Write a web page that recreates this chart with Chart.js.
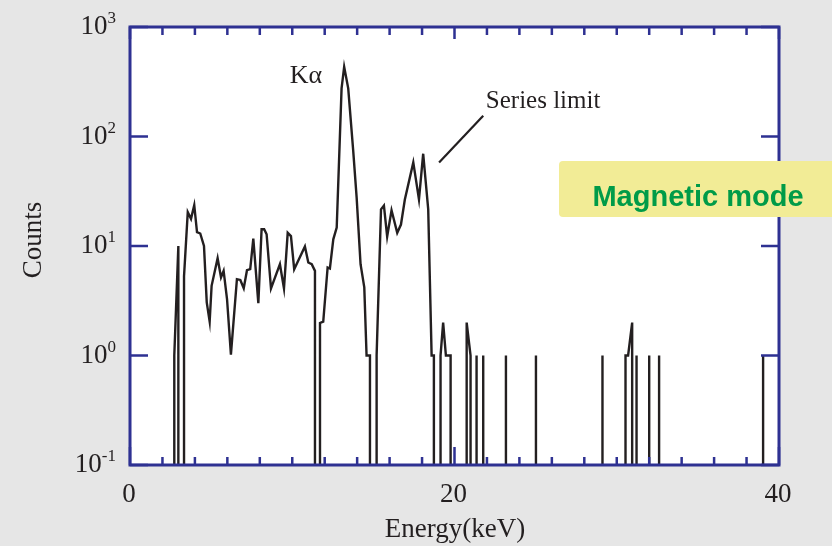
<!DOCTYPE html>
<html>
<head>
<meta charset="utf-8">
<script src="https://cdn.jsdelivr.net/npm/chart.js@4.4.1/dist/chart.umd.min.js"></script>
<style>
  html, body { margin: 0; padding: 0; background: #e6e6e6; }
  canvas { display: block; }
</style>
</head>
<body>
<canvas id="myChart" width="832" height="546"></canvas>
<script>
// Spectrum: energy in keV, counts (0 = empty bin, drawn as a drop to the floor)
const energy = [
  2.6, 2.73, 2.98, 3.1, 3.33, 3.56, 3.76, 3.96, 4.13, 4.33, 4.56, 4.73, 4.91, 5.03, 5.40, 5.61,
  5.77, 5.98, 6.22, 6.59, 6.80, 7.01, 7.21, 7.41, 7.60, 7.91, 8.11, 8.27, 8.42, 8.69, 9.24, 9.49,
  9.72, 9.92, 10.12, 10.78, 10.99, 11.20, 11.40, 11.55, 11.71, 11.91, 12.18, 12.32, 12.53, 12.74,
  13.04, 13.20, 13.45, 13.76, 13.97, 14.21, 14.44, 14.58, 14.79, 15.0, 15.20, 15.47, 15.65, 15.85,
  16.12, 16.47, 16.70, 16.94, 17.46, 17.81, 18.07, 18.38, 18.59, 18.73, 18.9, 19.14, 19.30, 19.47,
  19.76, 20.2, 20.75, 20.99, 21.2, 21.36, 21.5, 21.77, 22.5, 23.17, 24, 25.02, 27, 29.12, 30,
  30.54, 30.70, 30.95, 31.1, 31.22, 31.6, 32.0, 32.3, 32.61, 35, 39.02, 39.5
];
const counts = [
  0, 1, 10, 0, 5.3, 20.4, 17.7, 23.6, 13.4, 13.0, 10, 3.06, 2.04, 4.33, 7.73, 5.16,
  5.93, 3.28, 1.02, 4.98, 4.9, 4.12, 6.01, 6.14, 11.7, 3.01, 14.2, 14.2, 12.8, 4.1, 6.82, 4.1,
  13.2, 12.3, 6.14, 9.88, 7.07, 6.82, 5.93, 0, 1.98, 2.04, 6.36, 6.23, 11.5, 14.7,
  275, 433, 275, 73, 27.5, 6.82, 4.19, 1, 1, 0, 1, 21.6, 23.4, 12.2,
  21.2, 13.2, 15.7, 26.6, 58, 26.6, 69.6, 21.6, 1, 1, 0, 1, 2, 1,
  1, 0, 2, 1, 0, 1, 0, 1, 0, 1, 0, 1, 0, 1, 0,
  1, 1, 2, 0, 1, 0, 1, 0, 1, 0, 1, 0
];

// Axis ticks
const xTicks = [0, 2, 4, 6, 8, 10, 12, 14, 16, 18, 20, 22, 24, 26, 28, 30, 32, 34, 36, 38, 40];
const xTickLabels = [0, 20, 40];
const yTickExps = [-1, 0, 1, 2, 3];

const FLOOR = 0.01; // below the axis, gets clipped

// zero bins fall straight down (log of 0), like the original plot
let points = [];
for (let i = 0; i < energy.length; i++) {
    if (counts[i] > 0) {
        points.push({x: energy[i], y: counts[i]});
    } else {
        if (i > 0 && counts[i - 1] > 0) points.push({x: energy[i - 1], y: FLOOR});
        if (i < energy.length - 1 && counts[i + 1] > 0) points.push({x: energy[i + 1], y: FLOOR});
    }
}

const blue = '#2e3192';
const serif = '"Liberation Serif", "Times New Roman", serif';

const decorPlugin = {
    id: 'decor',
    beforeDraw(chart) {
        const {ctx, chartArea: a} = chart;
        ctx.save();
        ctx.fillStyle = '#e6e6e6';
        ctx.fillRect(0, 0, chart.width, chart.height);
        ctx.fillStyle = '#ffffff';
        ctx.fillRect(a.left, a.top, a.right - a.left, a.bottom - a.top);
        ctx.restore();
    },
    afterDatasetsDraw(chart) {
        const {ctx, chartArea: a, scales: {x, y}} = chart;
        ctx.save();

        // ticks pointing inward
        ctx.strokeStyle = blue;
        ctx.lineWidth = 2.5;
        ctx.beginPath();
        xTicks.forEach(v => {
            const px = x.getPixelForValue(v);
            const major = v % 20 === 0;
            ctx.moveTo(px, a.bottom);
            ctx.lineTo(px, a.bottom - (major ? 18 : 8));
            ctx.moveTo(px, a.top);
            ctx.lineTo(px, a.top + (major ? 12 : 8));
        });
        yTickExps.forEach(e => {
            const py = y.getPixelForValue(Math.pow(10, e));
            ctx.moveTo(a.left, py);
            ctx.lineTo(a.left + 18, py);
            ctx.moveTo(a.right, py);
            ctx.lineTo(a.right - 18, py);
        });
        ctx.stroke();

        // frame
        ctx.lineWidth = 3;
        ctx.strokeRect(a.left, a.top, a.right - a.left, a.bottom - a.top);

        // y tick labels 10^n
        ctx.fillStyle = '#231f20';
        ctx.textAlign = 'right';
        ctx.textBaseline = 'alphabetic';
        yTickExps.forEach(e => {
            const py = y.getPixelForValue(Math.pow(10, e));
            ctx.font = '17px ' + serif;
            const sup = String(e);
            const sw = ctx.measureText(sup).width;
            ctx.fillText(sup, 116, py - 4);
            ctx.font = '27px ' + serif;
            ctx.fillText('10', 116 - sw, py + 7);
        });

        // x tick labels
        ctx.textAlign = 'center';
        ctx.font = '27px ' + serif;
        xTickLabels.forEach(v => {
            ctx.fillText(String(v), x.getPixelForValue(v) - 1, 502);
        });

        // axis titles
        ctx.fillText('Energy(keV)', 455, 537);
        ctx.save();
        ctx.translate(41, 240);
        ctx.rotate(-Math.PI / 2);
        ctx.fillText('Counts', 0, 0);
        ctx.restore();

        // annotations
        ctx.font = '26px ' + serif;
        ctx.fillText('K\u03b1', x.getPixelForValue(10.84), y.getPixelForValue(372) + 9);
        ctx.textAlign = 'left';
        ctx.font = '25px ' + serif;
        ctx.fillText('Series limit', x.getPixelForValue(21.93), y.getPixelForValue(216) + 8);
        ctx.strokeStyle = '#231f20';
        ctx.lineWidth = 2.2;
        ctx.beginPath();
        ctx.moveTo(x.getPixelForValue(19.05), y.getPixelForValue(58));
        ctx.lineTo(x.getPixelForValue(21.77), y.getPixelForValue(155));
        ctx.stroke();

        // mode box
        ctx.fillStyle = '#f2ec96';
        ctx.beginPath();
        ctx.roundRect(559, 161, 290, 56, 4);
        ctx.fill();
        ctx.fillStyle = '#009b48';
        ctx.textAlign = 'center';
        ctx.font = 'bold 29px "Liberation Sans", Arial, sans-serif';
        ctx.fillText('Magnetic mode', 698, 206);

        ctx.restore();
    }
};

const myChart = document.getElementById('myChart');

let lineChart = new Chart(myChart, {
    type: 'line',
    data: {
        datasets: [{
            label: 'Counts',
            data: points,
            borderColor: '#231f20',
            borderWidth: 2.4,
            pointRadius: 0,
            tension: 0,
            fill: false
        }]
    },
    options: {
        responsive: false,
        animation: false,
        devicePixelRatio: 1,
        layout: {
            padding: {left: 130, right: 53, top: 27, bottom: 81}
        },
        scales: {
            x: {
                type: 'linear',
                min: 0,
                max: 40,
                display: false
            },
            y: {
                type: 'logarithmic',
                min: 0.1,
                max: 1000,
                display: false
            }
        },
        plugins: {
            legend: {display: false},
            tooltip: {enabled: false}
        }
    },
    plugins: [decorPlugin]
});
</script>
</body>
</html>
